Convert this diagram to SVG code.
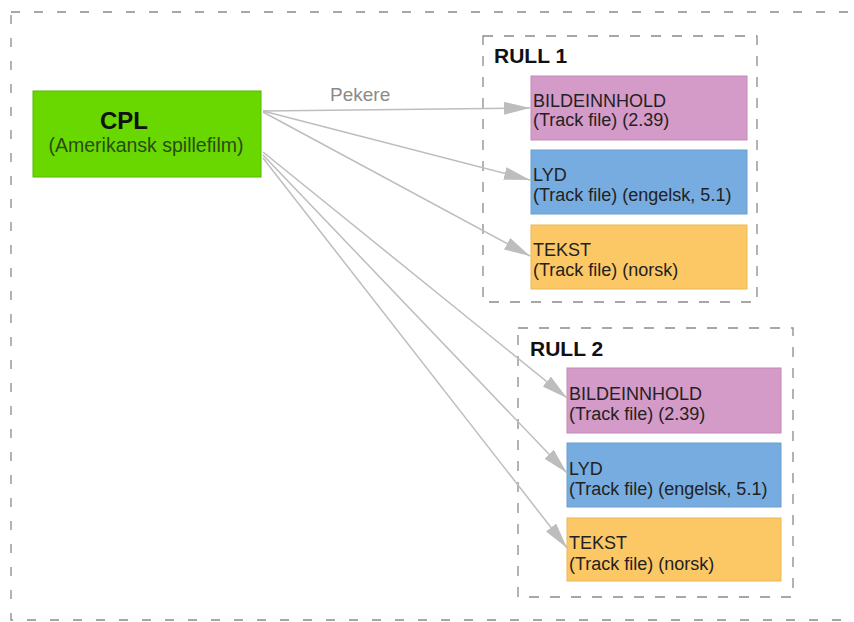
<svg xmlns="http://www.w3.org/2000/svg" width="854" height="622" viewBox="0 0 854 622">
<style>
.frame{fill:none;stroke:#8a8a8a;stroke-width:1.3}
.outer{stroke-dasharray:9 14}
.inner{stroke-dasharray:10 11}
.lbl{font-family:"Liberation Sans",Arial,sans-serif;font-size:18px;fill:#222}
.rull{font-family:"Liberation Sans",Arial,sans-serif;font-size:21px;font-weight:bold;fill:#111}
.conn{stroke:#bdbdbd;stroke-width:1.5;fill:none;marker-end:url(#ah)}
.pink{fill:#d49ac8;stroke:#c48ab8;stroke-width:1}
.blue{fill:#76acdf;stroke:#6a9fcf;stroke-width:1}
.orange{fill:#fcc865;stroke:#ecb855;stroke-width:1}
</style>
<defs>
<marker id="ah" markerUnits="userSpaceOnUse" markerWidth="26" markerHeight="13" refX="26" refY="6.5" orient="auto">
<path d="M0,0 L26,6.5 L0,13 Z" fill="#bdbdbd"/>
</marker>
</defs>
<rect width="854" height="622" fill="#ffffff"/>
<rect class="frame outer" x="11" y="12" width="870" height="608"/>

<g id="rull1">
<rect class="frame inner" x="483" y="36" width="274" height="266"/>
<text class="rull" x="494" y="63">RULL 1</text>
</g>
<g id="rull2">
<rect class="frame inner" x="518" y="328" width="275" height="269"/>
<text class="rull" x="530" y="356">RULL 2</text>
</g>

<g id="cpl">
<rect x="33" y="91" width="228" height="86" fill="#68d800" stroke="#58b800" stroke-width="1"/>
<text x="100" y="129" font-family="Liberation Sans,Arial,sans-serif" font-size="24" font-weight="bold" fill="#111">CPL</text>
<text x="146" y="152" text-anchor="middle" font-family="Liberation Sans,Arial,sans-serif" font-size="19.5" fill="#2a4d10">(Amerikansk spillefilm)</text>
</g>

<g id="r1-bilde">
<rect class="pink" x="531" y="76" width="216" height="64"/>
<text class="lbl" x="533" y="107">BILDEINNHOLD</text>
<text class="lbl" x="533" y="126">(Track file) (2.39)</text>
</g>
<g id="r1-lyd">
<rect class="blue" x="531" y="150" width="216" height="64"/>
<text class="lbl" x="533" y="181">LYD</text>
<text class="lbl" x="533" y="201">(Track file) (engelsk, 5.1)</text>
</g>
<g id="r1-tekst">
<rect class="orange" x="531" y="225" width="216" height="64"/>
<text class="lbl" x="533" y="256">TEKST</text>
<text class="lbl" x="533" y="276">(Track file) (norsk)</text>
</g>

<g id="r2-bilde">
<rect class="pink" x="567" y="368" width="214" height="65"/>
<text class="lbl" x="569" y="400">BILDEINNHOLD</text>
<text class="lbl" x="569" y="420">(Track file) (2.39)</text>
</g>
<g id="r2-lyd">
<rect class="blue" x="567" y="443" width="214" height="64"/>
<text class="lbl" x="569" y="475">LYD</text>
<text class="lbl" x="569" y="495">(Track file) (engelsk, 5.1)</text>
</g>
<g id="r2-tekst">
<rect class="orange" x="567" y="518" width="214" height="63"/>
<text class="lbl" x="569" y="549">TEKST</text>
<text class="lbl" x="569" y="570">(Track file) (norsk)</text>
</g>

<g id="connectors">
<line class="conn" x1="263" y1="111" x2="530" y2="108"/>
<line class="conn" x1="263" y1="111" x2="530" y2="180"/>
<line class="conn" x1="263" y1="112" x2="530" y2="256"/>
<line class="conn" x1="263" y1="152" x2="567" y2="398"/>
<line class="conn" x1="263" y1="155" x2="567" y2="473"/>
<line class="conn" x1="263" y1="158" x2="567" y2="548"/>
<text x="330" y="101" font-family="Liberation Sans,Arial,sans-serif" font-size="19" fill="#8a8a8a">Pekere</text>
</g>
</svg>
